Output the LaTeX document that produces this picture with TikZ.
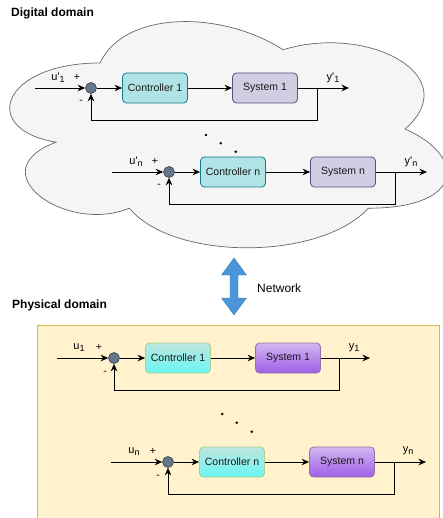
\documentclass[tikz,border=0pt]{standalone}
\usepackage{fontspec}
\setmainfont{Liberation Sans}
\usepackage{tikz}
\usetikzlibrary{arrows.meta,positioning,calc}
\definecolor{cloudfill}{HTML}{F5F5F5}
\definecolor{cloudline}{HTML}{666666}
\definecolor{ctrlfill}{HTML}{B0E3E6}
\definecolor{ctrlline}{HTML}{0E8088}
\definecolor{sysfill}{HTML}{D0CEE2}
\definecolor{sysline}{HTML}{56517E}
\definecolor{sumfill}{HTML}{647687}
\definecolor{sumline}{HTML}{314354}
\definecolor{physfill}{HTML}{FFF2CC}
\definecolor{physline}{HTML}{D6B656}
\definecolor{pctrltop}{HTML}{BDE6DE}
\definecolor{pctrlbot}{HTML}{6AF7F6}
\definecolor{pctrlline}{HTML}{A8CF8E}
\definecolor{psystop}{HTML}{D3B6F0}
\definecolor{psysbot}{HTML}{9E5EE8}
\definecolor{psysline}{HTML}{9673A6}
\definecolor{netblue}{HTML}{4A96D8}

\newcommand{\lsub}[1]{\raisebox{-0.35ex}{\fontsize{9}{10}\selectfont #1}}

\tikzset{
  blk/.style={rounded corners=4pt, minimum width=65pt, minimum height=30pt,
    inner sep=0pt, line width=0.8pt, font=\fontsize{10.5}{12}\selectfont, text=black!90},
  ctrlbox/.style={blk, draw=ctrlline, fill=ctrlfill},
  sysbox/.style={blk, draw=sysline, fill=sysfill},
  pctrlbox/.style={blk, draw=pctrlline, top color=pctrltop, bottom color=pctrlbot},
  psysbox/.style={blk, draw=psysline, top color=psystop, bottom color=psysbot},
  sumpt/.style={circle, draw=sumline, fill=sumfill, minimum size=11pt, inner sep=0pt, line width=0.6pt},
  sig/.style={line width=0.8pt, -{Stealth[length=7.5pt,width=6.5pt]}},
  lbl/.style={inner sep=0pt, font=\fontsize{11}{12}\selectfont},
  sgn/.style={inner sep=0pt, font=\fontsize{10.5}{12}\selectfont},
  title/.style={anchor=west, inner sep=0pt, font=\fontsize{12}{14}\selectfont\bfseries},
}

\begin{document}
\begin{tikzpicture}[x=1pt, y=-1pt]
  \useasboundingbox (0,0) rectangle (442,518);

  % --- Digital domain: cloud ---
  \node[title] (digt) at (11,13) {Digital domain};
  \draw[fill=cloudfill, draw=cloudline, line width=0.7pt]
    (100,63) .. controls (2.4,63) and (-22,129) .. (56.1,142.2)
    .. controls (-22,171.2) and (65.8,234.6) .. (129.3,208.2)
    .. controls (173.2,261) and (319.6,261) .. (368.4,208.2)
    .. controls (466,208.2) and (466,155.4) .. (405,129)
    .. controls (466,76.2) and (368.4,23.4) .. (283,49.8)
    .. controls (222,10.2) and (124.4,10.2) .. (100,63) -- cycle;

  % --- Digital loop 1 ---
  \begin{scope}[shift={(91,88)}]
    \coordinate (du1) at (-56,0);
    \node[sumpt] (dsum1) at (0,0) {};
    \node[ctrlbox] (dctrl1) at (64,0) {Controller 1};
    \node[sysbox] (dsys1) at (174,0) {System 1};
    \coordinate (dbr1) at (226,0);
    \coordinate (dy1) at (258,0);
    \draw[sig] (du1) -- (dsum1);
    \draw[sig] (dsum1) -- (dctrl1);
    \draw[sig] (dctrl1) -- (dsys1);
    \draw[sig] (dsys1) -- (dy1);
    \draw[sig] (dbr1) -- ++(0,32) -| (dsum1);
    \node[lbl] (dul1) at (-33,-10) {u\textquotesingle\lsub{1}};
    \node[sgn] (dpl1) at (-14,-11) {+};
    \node[sgn] (dmi1) at (-10,14) {-};
    \node[lbl] (dyl1) at (242,-10) {y\textquotesingle\lsub{1}};
  \end{scope}

  \fill (206,135) circle (1.4) (220.7,143.3) circle (1.4) (235.7,151.7) circle (1.4);

  % --- Digital loop n ---
  \begin{scope}[shift={(169,172)}]
    \coordinate (dun) at (-57,0);
    \node[sumpt] (dsumn) at (0,0) {};
    \node[ctrlbox] (dctrln) at (64,0) {Controller n};
    \node[sysbox] (dsysn) at (174,0) {System n};
    \coordinate (dbrn) at (226,0);
    \coordinate (dyn) at (258,0);
    \draw[sig] (dun) -- (dsumn);
    \draw[sig] (dsumn) -- (dctrln);
    \draw[sig] (dctrln) -- (dsysn);
    \draw[sig] (dsysn) -- (dyn);
    \draw[sig] (dbrn) -- ++(0,32) -| (dsumn);
    \node[lbl] (duln) at (-33,-10) {u\textquotesingle\lsub{n}};
    \node[sgn] (dpln) at (-14,-11) {+};
    \node[sgn] (dmin) at (-10,14) {-};
    \node[lbl] (dyln) at (242,-10) {y\textquotesingle\lsub{n}};
  \end{scope}

  % --- Network ---
  \draw[fill=netblue, draw=netblue!85!black, line width=0.4pt]
    (234,258) -- (246.5,275) -- (238,275) -- (238,298) -- (246.5,298) -- (234,315)
    -- (221.5,298) -- (230,298) -- (230,275) -- (221.5,275) -- cycle;
  \node[anchor=west, inner sep=0pt, font=\fontsize{12}{14}\selectfont] (net) at (257,288) {Network};

  % --- Physical domain ---
  \node[title] (phyt) at (12,305) {Physical domain};
  \draw[fill=physfill, draw=physline, line width=0.8pt] (37,325) rectangle (439,520);

  % --- Physical loop 1 ---
  \begin{scope}[shift={(114,358)}]
    \coordinate (pu1) at (-57,0);
    \node[sumpt] (psum1) at (0,0) {};
    \node[pctrlbox] (pctrl1) at (64,0) {Controller 1};
    \node[psysbox] (psys1) at (174,0) {System 1};
    \coordinate (pbr1) at (225,0);
    \coordinate (py1) at (256,0);
    \draw[sig] (pu1) -- (psum1);
    \draw[sig] (psum1) -- (pctrl1);
    \draw[sig] (pctrl1) -- (psys1);
    \draw[sig] (psys1) -- (py1);
    \draw[sig] (pbr1) -- ++(0,32) -| (psum1);
    \node[lbl] (pul1) at (-35,-10) {u\lsub{1}};
    \node[sgn] (ppl1) at (-15,-11) {+};
    \node[sgn] (pmi1) at (-9,15) {-};
    \node[lbl] (pyl1) at (240,-10) {y\lsub{1}};
  \end{scope}

  \fill (222.3,414) circle (1.4) (236.7,422.7) circle (1.4) (251.7,431.7) circle (1.4);

  % --- Physical loop n ---
  \begin{scope}[shift={(168,462)}]
    \coordinate (pun) at (-57,0);
    \node[sumpt] (psumn) at (0,0) {};
    \node[pctrlbox] (pctrln) at (64,0) {Controller n};
    \node[psysbox] (psysn) at (174,0) {System n};
    \coordinate (pbrn) at (226,0);
    \coordinate (pyn) at (258,0);
    \draw[sig] (pun) -- (psumn);
    \draw[sig] (psumn) -- (pctrln);
    \draw[sig] (pctrln) -- (psysn);
    \draw[sig] (psysn) -- (pyn);
    \draw[sig] (pbrn) -- ++(0,32) -| (psumn);
    \node[lbl] (puln) at (-34,-10) {u\lsub{n}};
    \node[sgn] (ppln) at (-15,-11) {+};
    \node[sgn] (pmin) at (-10,15) {-};
    \node[lbl] (pyln) at (240,-11) {y\lsub{n}};
  \end{scope}
\end{tikzpicture}
\end{document}
